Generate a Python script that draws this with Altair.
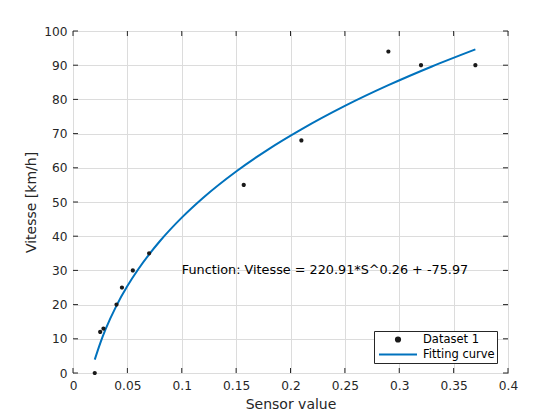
import altair as alt
import pandas as pd

# Measured data points (Sensor value, Vitesse)
sensor = [0.02, 0.025, 0.028, 0.04, 0.045, 0.055, 0.07, 0.157, 0.21, 0.29, 0.32, 0.37]
vitesse = [0, 12, 13, 20, 25, 30, 35, 55, 68, 94, 90, 90]

# Fitted curve points
curve_s = [0.02, 0.025, 0.03, 0.04, 0.05, 0.06, 0.07, 0.08, 0.10, 0.12, 0.15, 0.18, 0.21, 0.25, 0.29, 0.33, 0.37]
curve_v = [3.91, 8.68, 12.81, 19.71, 25.41, 30.33, 34.68, 38.59, 45.42, 51.32, 58.92, 65.48, 71.24, 78.09, 84.15, 89.62, 94.62]

x_ticks = [0, 0.05, 0.1, 0.15, 0.2, 0.25, 0.3, 0.35, 0.4]
y_ticks = [0, 10, 20, 30, 40, 50, 60, 70, 80, 90, 100]

annotation = "Function: Vitesse = 220.91*S^0.26 + -75.97"
series = ["Dataset 1", "Fitting curve"]

W, H = 435, 342
FONT = "DejaVu Sans"
AX = "#262626"

# symbol shapes (unit coordinates): small dot, horizontal line
DOT = "M-0.11,0A0.11,0.11 0 1,0 0.11,0A0.11,0.11 0 1,0 -0.11,0Z"
LINE = "M-1,0H1"
SYM = 1444

pts = pd.DataFrame({"s": sensor, "v": vitesse, "series": series[0]})
crv = pd.DataFrame({"s": curve_s, "v": curve_v, "series": series[1]})
xt = pd.DataFrame({"t": x_ticks})
yt = pd.DataFrame({"t": y_ticks})

xscale = alt.Scale(domain=[0, 0.4], nice=False, zero=False)
yscale = alt.Scale(domain=[0, 100], nice=False)

xaxis = alt.Axis(values=x_ticks, format=".2~f", title="Sensor value", grid=True,
                 ticks=False, domain=False, labelPadding=6, titlePadding=6,
                 labelOverlap=False, labelFlush=False)
yaxis = alt.Axis(values=y_ticks, title="Vitesse [km/h]", grid=True,
                 ticks=False, domain=False, labelPadding=6, titlePadding=5,
                 labelOverlap=False, labelFlush=False)

X = alt.X("s:Q", scale=xscale, axis=xaxis)
Y = alt.Y("v:Q", scale=yscale, axis=yaxis)

legend = alt.Legend(title=None, orient="none", legendX=301, legendY=300,
                    symbolStrokeWidth=2, symbolSize=SYM, clipHeight=13)
color = alt.Color("series:N", scale=alt.Scale(domain=series, range=["#1a1a1a", "#0072BD"]),
                  legend=legend)
shape = alt.Shape("series:N", scale=alt.Scale(domain=series, range=[DOT, LINE]),
                  legend=legend)

points = alt.Chart(pts).mark_point(filled=True, size=SYM, opacity=1).encode(
    x=X, y=Y, color=color, shape=shape,
)

line = alt.Chart(crv).mark_line(strokeWidth=2, interpolate="monotone").encode(
    x=X, y=Y, color=color,
)

txt = alt.Chart(pd.DataFrame({"s": [0.1], "v": [30], "label": [annotation]})).mark_text(
    align="left", baseline="middle", font=FONT, fontSize=12.8, color="black"
).encode(x=X, y=Y, text="label:N")

tick_len = 5
xb = alt.Chart(xt).mark_rule(color=AX, strokeWidth=1).encode(
    x=alt.X("t:Q", scale=xscale, axis=xaxis), y=alt.value(H), y2=alt.value(H - tick_len))
xtop = alt.Chart(xt).mark_rule(color=AX, strokeWidth=1).encode(
    x=alt.X("t:Q", scale=xscale, axis=xaxis), y=alt.value(0), y2=alt.value(tick_len))
yl = alt.Chart(yt).mark_rule(color=AX, strokeWidth=1).encode(
    y=alt.Y("t:Q", scale=yscale, axis=yaxis), x=alt.value(0), x2=alt.value(tick_len))
yr = alt.Chart(yt).mark_rule(color=AX, strokeWidth=1).encode(
    y=alt.Y("t:Q", scale=yscale, axis=yaxis), x=alt.value(W), x2=alt.value(W - tick_len))

chart = alt.layer(line, points, txt, xb, xtop, yl, yr).properties(
    width=W, height=H,
    background="white",
    autosize=alt.AutoSizeParams(type="none"),
    padding={"left": 73, "top": 31, "right": 52, "bottom": 47},
).configure_view(
    stroke=AX, strokeWidth=1
).configure_axis(
    gridColor="#dcdcdc", gridWidth=1, labelFont=FONT, titleFont=FONT,
    labelFontSize=12.2, titleFontSize=14, labelColor=AX, titleColor=AX,
    titleFontWeight="normal"
).configure_legend(
    labelFont=FONT, labelFontSize=11.5, labelColor="black",
    strokeColor=AX, fillColor="white", padding=2, rowPadding=2,
    symbolOffset=2, labelOffset=5, cornerRadius=0
)

chart.save("out.html", embed_options={"renderer": "svg", "actions": False})
